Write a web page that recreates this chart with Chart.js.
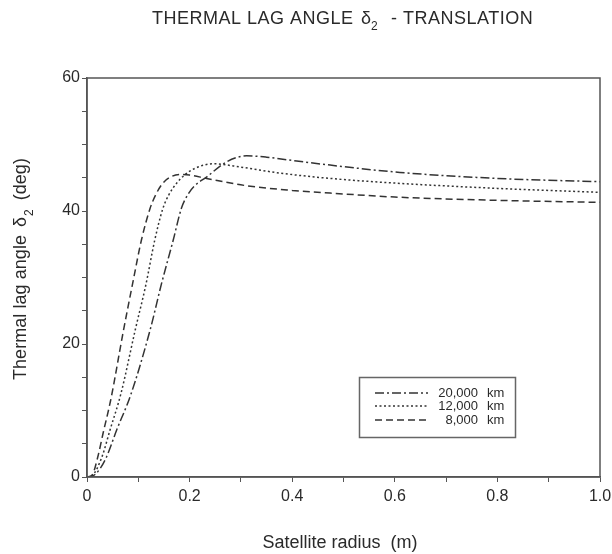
<!DOCTYPE html>
<html>
<head>
<meta charset="utf-8">
<script src="https://cdn.jsdelivr.net/npm/chart.js@4/dist/chart.umd.min.js"></script>
<style>
html,body{margin:0;padding:0;background:#fff;}
#wrap{width:612px;height:554px;position:relative;}
</style>
</head>
<body>
<div id="wrap"><canvas id="c"></canvas></div>
<script>
// ---- data ----
const seriesLabels = ['20,000 km', '12,000 km', '8,000 km'];

const x20000 = [0, 0.01, 0.025, 0.038, 0.058, 0.085, 0.123, 0.145, 0.168, 0.184, 0.196, 0.21, 0.233, 0.266, 0.29, 0.311, 0.35, 0.4, 0.474, 0.61, 0.8, 1.0];
const y20000 = [0, 0.1, 1.2, 3.0, 7.1, 12.3, 22.1, 29.0, 35.6, 40.4, 42.4, 43.8, 45.1, 47.1, 48.0, 48.3, 48.1, 47.6, 46.9, 45.8, 44.9, 44.4];

const x12000 = [0, 0.01, 0.029, 0.045, 0.066, 0.094, 0.115, 0.132, 0.148, 0.16, 0.175, 0.19, 0.21, 0.246, 0.3, 0.376, 0.474, 0.6, 0.8, 1.0];
const y12000 = [0, 0.2, 3.0, 7.1, 12.5, 22.1, 29.0, 35.6, 40.4, 42.5, 44.2, 45.4, 46.4, 47.1, 46.6, 45.7, 44.9, 44.2, 43.4, 42.8];

const x8000 = [0, 0.01, 0.021, 0.032, 0.046, 0.071, 0.09, 0.106, 0.123, 0.135, 0.148, 0.165, 0.181, 0.2, 0.233, 0.311, 0.4, 0.474, 0.6, 0.8, 1.0];
const y8000 = [0, 0.3, 3.0, 6.8, 11.5, 22.0, 29.5, 35.6, 40.4, 42.6, 44.2, 45.2, 45.5, 45.4, 44.9, 43.8, 43.1, 42.7, 42.1, 41.6, 41.3];

const xLabelValues = [0, 0.2, 0.4, 0.6, 0.8, 1.0];
const xLabelTexts = ['0', '0.2', '0.4', '0.6', '0.8', '1.0'];
const yLabelValues = [0, 20, 40, 60];

const FONT = '"Liberation Sans", Arial, sans-serif';
const INK = '#2a2a2a';

function pts(xs, ys) { return xs.map((x, i) => ({x: x, y: ys[i]})); }

const ds = (label, xs, ys, dash) => ({
  label: label,
  data: pts(xs, ys),
  borderColor: '#333',
  borderWidth: 1.5,
  borderDash: dash,
  pointRadius: 0,
  fill: false,
  cubicInterpolationMode: 'monotone'
});

const decorPlugin = {
  id: 'decor',
  afterDraw(chart) {
    const ctx = chart.ctx;
    const a = chart.chartArea;
    ctx.save();
    // frame
    ctx.strokeStyle = '#555';
    ctx.lineWidth = 1.5;
    ctx.strokeRect(a.left, a.top, a.right - a.left, a.bottom - a.top);

    ctx.fillStyle = INK;
    ctx.textBaseline = 'alphabetic';
    // main title
    ctx.textAlign = 'left';
    ctx.font = '18px ' + FONT;
    ctx.letterSpacing = '0.5px';
    ctx.fillText('THERMAL LAG ANGLE', 152, 24);
    ctx.letterSpacing = '0px';
    ctx.fillText('\u03B4', 361, 24);
    ctx.font = '12px ' + FONT;
    ctx.fillText('2', 371, 30);
    ctx.font = '18px ' + FONT;
    ctx.letterSpacing = '0.5px';
    ctx.fillText('- TRANSLATION', 391, 24);
    ctx.letterSpacing = '0px';

    // x axis title
    ctx.textAlign = 'center';
    ctx.fillText('Satellite radius  (m)', 340, 548);

    // y axis title (rotated, reading bottom to top)
    ctx.save();
    ctx.translate(25.5, 380);
    ctx.rotate(-Math.PI / 2);
    ctx.textAlign = 'left';
    ctx.font = '18px ' + FONT;
    ctx.letterSpacing = '0px';
    const txt1 = 'Thermal lag angle';
    const w0 = ctx.measureText(txt1).width;
    const sp = Math.max(0, (145 - w0) / txt1.length);
    let u = 0;
    for (const ch of txt1) {
      ctx.fillText(ch, u, 0);
      u += ctx.measureText(ch).width + sp;
    }
    u += 8;
    ctx.fillText('\u03B4', u, 0);
    u += ctx.measureText('\u03B4').width + 1;
    ctx.font = '12px ' + FONT;
    ctx.fillText('2', u, 7);
    u += ctx.measureText('2').width + 9;
    ctx.font = '18px ' + FONT;
    for (const ch of '(deg)') {
      ctx.fillText(ch, u, 0);
      u += ctx.measureText(ch).width + sp;
    }
    ctx.restore();

    // legend
    ctx.strokeStyle = '#666';
    ctx.lineWidth = 1.5;
    ctx.setLineDash([]);
    ctx.strokeRect(359.5, 377.5, 156, 60);
    const rows = [393, 406, 420];
    chart.data.datasets.forEach((d, i) => {
      const yy = rows[i];
      ctx.strokeStyle = d.borderColor;
      ctx.lineWidth = 1.3;
      ctx.setLineDash(d.borderDash);
      ctx.beginPath();
      ctx.moveTo(375, yy);
      ctx.lineTo(428, yy);
      ctx.stroke();
      ctx.setLineDash([]);
      const parts = d.label.split(' ');
      ctx.font = '13px ' + FONT;
      ctx.fillStyle = INK;
      ctx.textBaseline = 'middle';
      ctx.textAlign = 'right';
      ctx.fillText(parts[0], 478, yy);
      ctx.textAlign = 'left';
      ctx.fillText(parts[1], 487, yy);
    });
    ctx.restore();
  }
};

new Chart(document.getElementById('c'), {
  type: 'line',
  data: {
    datasets: [
      ds(seriesLabels[0], x20000, y20000, [9, 3, 2, 3]),
      ds(seriesLabels[1], x12000, y12000, [2, 2.5]),
      ds(seriesLabels[2], x8000, y8000, [7, 4])
    ]
  },
  options: {
    responsive: true,
    maintainAspectRatio: false,
    animation: false,
    layout: {padding: {top: 78, right: 12, left: 0, bottom: 0}},
    plugins: {legend: {display: false}, title: {display: false}, tooltip: {enabled: false}},
    scales: {
      x: {
        type: 'linear', min: 0, max: 1,
        afterFit(s) { s.height = 77; s.paddingLeft = 0; s.paddingRight = 0; },
        border: {display: true, color: '#555', width: 1.5},
        grid: {drawOnChartArea: false, drawTicks: true, tickLength: 5, color: '#555'},
        ticks: {
          stepSize: 0.1, maxRotation: 0, autoSkip: false, padding: 5,
          color: INK, font: {family: FONT, size: 16},
          callback(v) {
            const i = xLabelValues.findIndex(t => Math.abs(t - v) < 1e-6);
            return i >= 0 ? xLabelTexts[i] : '';
          }
        }
      },
      y: {
        type: 'linear', min: 0, max: 60,
        afterFit(s) { s.width = 87; },
        border: {display: true, color: '#555', width: 1.5},
        grid: {drawOnChartArea: false, drawTicks: true, tickLength: 5, color: '#555'},
        ticks: {
          stepSize: 5, autoSkip: false, padding: 2,
          color: INK, font: {family: FONT, size: 16},
          callback(v) { return yLabelValues.includes(v) ? String(v) : ''; }
        }
      }
    }
  },
  plugins: [decorPlugin]
});
</script>
</body>
</html>
